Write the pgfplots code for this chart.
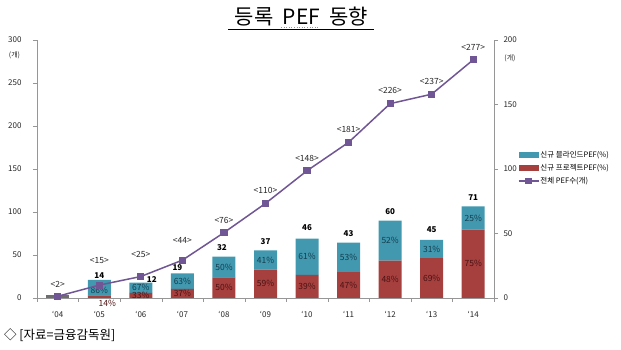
\documentclass[border=0pt]{standalone}
\usepackage{fontspec}
\setmainfont{Noto Sans CJK KR}
\usepackage{pgfplots}
\pgfplotsset{compat=1.18}
\usepackage{pgfplotstable}

\definecolor{cblue}{RGB}{65,152,175}
\definecolor{cred}{RGB}{166,64,63}
\definecolor{cpurple}{RGB}{112,86,148}
\definecolor{cgrey}{RGB}{110,110,110}
\definecolor{caxis}{RGB}{150,150,150}
\definecolor{tblue}{RGB}{20,62,80}
\definecolor{tred}{RGB}{75,18,18}

\pgfplotstableread{
x grey red blue
0 2 0 0
1 0 2 12
2 0 4 8
3 0 7 12
4 0 16 16
5 0 22 15
6 0 18 28
7 0 20 23
8 0 29 31
9 0 31 14
10 0 53 18
}\bars

\pgfplotstableread{
x red blue total rp bp tdx tdy rdx rdy bdy
1 2 12 14 14 86 0 4 8 -6.5 -3
2 4 8 12 33 67 11 3 0 0 0
3 7 12 19 37 63 -5 5.5 0 0 0
4 16 16 32 50 50 -2 9.5 0 0 0
5 22 15 37 59 41 0 9 0 0 0
6 18 28 46 39 61 0 11 0 0 0
7 20 23 43 47 53 0 9 0 0 0
8 29 31 60 48 52 0 9 0 0 0
9 31 14 45 69 31 0 10 0 0 0
10 53 18 71 75 25 0 8.5 0 0 0
}\labels

\pgfplotstableread{
x n dy
0 2 11.5
1 15 25
2 25 22.5
3 44 20
4 76 12.6
5 110 12.7
6 148 12.6
7 181 12.4
8 226 12.8
9 237 12.8
10 277 12.8
}\total

\pgfplotsset{
  base/.style={
    at={(37pt,52pt)}, anchor=south west,
    scale only axis, width=457pt, height=258pt,
    xmin=-0.5, xmax=10.5,
    clip=false,
    /pgf/number format/assume math mode=true,
    tick label style={font=\fontsize{8}{9}\selectfont, text=black!85},
  },
}

\begin{document}
\begin{tikzpicture}
\path[use as bounding box] (0,0) rectangle (621pt,350pt);

% bars (right axis, 0-200)
\begin{axis}[base,
  ymin=0, ymax=200,
  ybar stacked, bar width=23pt,
  axis x line*=bottom, axis y line*=right,
  axis line style={caxis, -},
  xtick={0,...,10},
  xticklabels={‘04,‘05,‘06,‘07,‘08,‘09,‘10,‘11,‘12,‘13,‘14},
  major x tick style={draw=none},
  minor xtick={-0.5,0.5,...,10.5},
  minor tick length=4pt,
  minor x tick style={caxis},
  ytick={0,50,...,200},
  major tick length=4pt,
  tick align=outside,
  y tick style={caxis},
  xticklabel style={yshift=-6pt},
  yticklabel style={xshift=2pt},
]
\addplot[fill=cgrey, draw=none] table[x=x,y=grey]{\bars};
\addplot[fill=cred, draw=none] table[x=x,y=red]{\bars};
\addplot[fill=cblue, draw=none] table[x=x,y=blue]{\bars};
\end{axis}

% labels on bars
\begin{axis}[base, ymin=0, ymax=200, hide axis]
\addplot[only marks, mark=none,
  point meta=explicit symbolic,
  nodes near coords={\pgfplotspointmeta\%},
  visualization depends on={\thisrow{rdx} \as \rdx},
  visualization depends on={\thisrow{rdy} \as \rdy},
  nodes near coords style={anchor=center, xshift=\rdx pt, yshift=\rdy pt,
    font=\fontsize{8.5}{9}\selectfont, text=tred, inner sep=0pt}]
  table[x=x, y expr=\thisrow{red}/2, meta=rp]{\labels};
\addplot[only marks, mark=none,
  point meta=explicit symbolic,
  nodes near coords={\pgfplotspointmeta\%},
  visualization depends on={\thisrow{bdy} \as \bdy},
  nodes near coords style={anchor=center, yshift=\bdy pt,
    font=\fontsize{8.5}{9}\selectfont, text=tblue, inner sep=0pt}]
  table[x=x, y expr=\thisrow{red}+\thisrow{blue}/2, meta=bp]{\labels};
\addplot[only marks, mark=none,
  point meta=explicit symbolic,
  nodes near coords={\pgfplotspointmeta},
  visualization depends on={\thisrow{tdx} \as \tdx},
  visualization depends on={\thisrow{tdy} \as \tdy},
  nodes near coords style={anchor=center, xshift=\tdx pt, yshift=\tdy pt,
    font=\bfseries\fontsize{8}{9}\selectfont, text=black, inner sep=0pt}]
  table[x=x, y=total, meta=total]{\labels};
\end{axis}

% line (left axis, 0-300)
\begin{axis}[base,
  ymin=0, ymax=300,
  axis y line*=left, hide x axis,
  axis line style={caxis, -},
  ytick={0,50,...,300},
  major tick length=4pt,
  tick align=outside,
  y tick style={caxis},
  yticklabel style={xshift=-8pt},
  legend style={at={(1.052,0.572)}, anchor=north west, draw=none, fill=none,
    font=\fontsize{7.5}{8.5}\selectfont, row sep=3pt, inner sep=0pt,
    nodes={inner sep=1pt}},
  legend cell align=left,
]
\addlegendimage{fill=cblue, draw=none,
  legend image code/.code={\fill[cblue] (0pt,-3pt) rectangle (20pt,3pt);}}
\addlegendentry{신규 블라인드PEF(\%)}
\addlegendimage{fill=cred, draw=none,
  legend image code/.code={\fill[cred] (0pt,-3pt) rectangle (20pt,3pt);}}
\addlegendentry{신규 프로젝트PEF(\%)}
\addplot[cpurple, line width=1.5pt, mark=square*, mark size=2.8pt,
  legend image code/.code={\draw[cpurple, line width=1.5pt] (0pt,0pt) -- (20pt,0pt);
    \fill[cpurple] (7pt,-2pt) rectangle (13pt,2pt);}]
  table[x=x,y=n]{\total};
\addlegendentry{전체 PEF수(개)}
\addplot[only marks, mark=none, forget plot,
  point meta=explicit symbolic,
  nodes near coords={<\pgfplotspointmeta>},
  visualization depends on={\thisrow{dy} \as \ldy},
  nodes near coords style={anchor=center, yshift=\ldy pt,
    font=\fontsize{8.5}{9}\selectfont, text=black!85, inner sep=0pt}]
  table[x=x,y=n,meta=n]{\total};
\end{axis}

% units
\node[font=\fontsize{7}{8}\selectfont, text=black!85] at (14.5pt,295pt) {(개)};
\node[font=\fontsize{7}{8}\selectfont, text=black!85] at (510pt,292pt) {(개)};

% title
\node[font=\fontsize{21}{23}\selectfont, inner sep=0pt, anchor=base] (T) at (301.5pt,325pt)
  {등록\hspace{0.45em}PEF\hspace{0.45em}동향};
\draw[black, line width=1.2pt] (228pt,320.5pt) -- (374pt,320.5pt);
\draw[orange!70!brown, line width=0.6pt, dotted] (281pt,322.5pt) -- (318pt,322.5pt);

% source
\node[font=\fontsize{12.5}{14}\selectfont, anchor=west, inner sep=0pt] at (4pt,15pt)
  {◇ [자료=금융감독원]};
\end{tikzpicture}
\end{document}
